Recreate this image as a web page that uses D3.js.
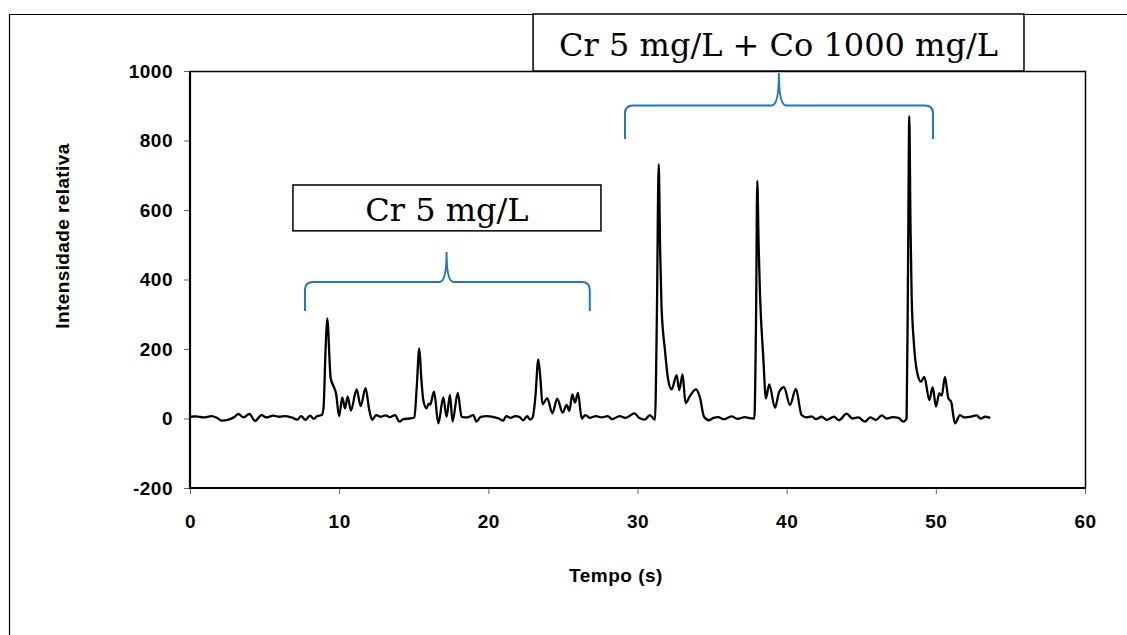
<!DOCTYPE html>
<html>
<head>
<meta charset="utf-8">
<script src="https://cdn.jsdelivr.net/npm/d3@7"></script>
<style>
  body { margin: 0; background: #fff; }
  svg { display: block; }
  .tick text { font-family: "Liberation Sans", Arial, sans-serif; font-weight: bold; font-size: 19px; letter-spacing: 0.5px; fill: #000; }
</style>
</head>
<body>
<svg id="chart" width="1127" height="635"></svg>
<script>
// ---- data ----
const time = [
  0, 0.4, 0.9, 1.45, 1.8, 2.12, 2.6, 3.0, 3.24, 3.6, 3.98, 4.36, 4.8, 5.1, 5.59, 6.0, 6.4, 6.8, 7.2, 7.45, 7.74, 8.05, 8.3, 8.54, 8.83,
  8.95, 9.09, 9.2, 9.43, 9.6, 9.79, 10.0, 10.21, 10.39, 10.57, 10.79, 11.17, 11.44, 11.77, 12.02, 12.22, 12.47, 12.8, 13.1, 13.4, 13.75, 14.03, 14.3, 14.7, 15.04,
  15.2, 15.37, 15.5, 15.64, 15.86, 16.0, 16.1, 16.36, 16.65, 16.98, 17.2, 17.43, 17.6, 17.95, 18.21, 18.6, 18.99, 19.2, 19.5, 19.9,
  20.3, 20.7, 21.0, 21.2, 21.5, 21.8, 22.1, 22.34, 22.6, 22.8, 22.97,
  23.15, 23.35, 23.5, 23.63, 23.95, 24.29, 24.62, 24.98, 25.25, 25.43, 25.63, 25.81, 26.01, 26.26, 26.5, 26.8, 27.2, 27.6, 28.0, 28.3, 28.8, 29.2, 29.8, 30.1, 30.5, 30.83, 31.17,
  31.3, 31.42, 31.52, 31.61, 31.84, 32.06, 32.29, 32.62, 32.8, 33.02, 33.22, 33.52, 33.92, 34.19, 34.46, 34.8, 35.1, 35.4, 35.8, 36.31, 36.7, 37.2, 37.5, 37.83,
  37.95, 38.03, 38.12, 38.21, 38.43, 38.61, 38.83, 39.22, 39.5, 39.82, 40.22, 40.62, 41.0, 41.34, 41.67, 41.95, 42.35, 42.7, 43.17, 43.5, 44.02, 44.4, 44.8, 45.25, 45.6, 46.0, 46.37, 46.7, 47.1, 47.5, 47.82, 48.04,
  48.13, 48.22, 48.3, 48.38, 48.53, 48.76, 49.0, 49.23, 49.56, 49.79, 50.01, 50.23, 50.4, 50.61, 50.84, 51.02, 51.28, 51.62, 51.9, 52.3, 52.74, 53.0, 53.3, 53.65
];
const intensity = [
  5, 6, 3, 7, 2, -6, -3, 5, 13, 3, 13, -7, 10, 3, 8, 5, 7, 3, -3, 7, -4, 8, -1, 7, 10,
  30, 200, 288, 116, 95, 72, 7, 61, 29, 63, 23, 84, 36, 87, 24, -4, 10, 5, 9, 4, 10, -9, -2, 0, 3,
  90, 202, 120, 53, 29, 43, 40, 77, -14, 61, 5, 68, -9, 74, 5, 3, 10, -9, 5, 7,
  5, 0, -6, 7, 2, 7, 4, -5, 7, -3, 3,
  60, 170, 110, 41, 58, 15, 57, 17, 39, 22, 69, 46, 74, 0, 10, 2, 7, 3, 7, -2, 7, 2, 15, 2, -3, 10, -4,
  300, 732, 480, 322, 197, 111, 84, 125, 82, 127, 44, 65, 84, 60, 5, -5, 2, 4, -2, 6, -1, 4, 1, 0,
  300, 684, 500, 360, 178, 58, 98, 31, 77, 90, 39, 85, 10, 3, 6, -2, 5, -4, 5, -5, 14, 0, 3, -9, 3, -4, 9, 0, 4, 2, -9, 0,
  400, 870, 560, 350, 216, 130, 106, 120, 53, 90, 34, 72, 66, 120, 58, 49, -14, 10, 3, 5, 9, 0, 5, 2
];
const xTicks = [0, 10, 20, 30, 40, 50, 60];
const yTicks = [-200, 0, 200, 400, 600, 800, 1000];
const xTitle = "Tempo (s)";
const yTitle = "Intensidade relativa";
// annotations in data units
const boxLabels = ["Cr 5 mg/L", "Cr 5 mg/L + Co 1000 mg/L"];
const boxT0 = [6.9, 23.0];
const boxT1 = [27.55, 55.91];
const boxV0 = [540, 1000];
const boxV1 = [672, 1164];
const braceT0 = [7.71, 29.16];
const braceT1 = [26.8, 49.81];
const braceTm = [17.2, 39.48];
const braceLevel = [393, 901];
const braceTip = [309, 804];
const bracePeak = [479, 994];

(function () {
  const svg = d3.select("#chart");
  const W = 1127, H = 635;
  const mLeft = 190, mRight = 1085, mTop = 71, mBottom = 488;

  const x = d3.scaleLinear().domain([0, 60]).range([mLeft, mRight]);
  const y = d3.scaleLinear().domain([-200, 1000]).range([mBottom, mTop]);

  // outer frame
  svg.append("path")
    .attr("d", `M9.5,${H + 5} L9.5,14.5 L${W + 5},14.5`)
    .attr("fill", "none").attr("stroke", "#000").attr("stroke-width", 1.2);

  // plot border (top/right thin)
  svg.append("path")
    .attr("d", `M${mLeft},${mTop + 0.5} L${mRight + 0.5},${mTop + 0.5} L${mRight + 0.5},${mBottom}`)
    .attr("fill", "none").attr("stroke", "#000").attr("stroke-width", 1.5);

  // axes
  const fmt = d => String(d);
  const yAxis = svg.append("g").attr("transform", `translate(${mLeft},0)`)
    .call(d3.axisLeft(y).tickValues(yTicks).tickSize(6).tickPadding(11).tickFormat(fmt));
  const xAxis = svg.append("g").attr("transform", `translate(0,${mBottom})`)
    .call(d3.axisBottom(x).tickValues(xTicks).tickSize(6).tickPadding(21).tickFormat(fmt));
  [xAxis, yAxis].forEach(g => {
    g.select(".domain").remove();
    g.selectAll(".tick line").attr("stroke", "#666").attr("stroke-width", 1);
  });
  // main axis lines (thicker)
  svg.append("line").attr("x1", mLeft).attr("x2", mLeft).attr("y1", mTop).attr("y2", mBottom + 1)
    .attr("stroke", "#000").attr("stroke-width", 2.2);
  svg.append("line").attr("x1", mLeft - 1).attr("x2", mRight + 1).attr("y1", mBottom).attr("y2", mBottom)
    .attr("stroke", "#000").attr("stroke-width", 2.2);

  // axis titles
  svg.append("text").attr("x", 616).attr("y", 582).attr("text-anchor", "middle")
    .style("font-family", '"Liberation Sans", Arial, sans-serif').style("font-weight", "bold")
    .style("font-size", "19px").style("letter-spacing", "0.5px").text(xTitle);
  svg.append("text").attr("transform", `translate(69,236) rotate(-90)`).attr("text-anchor", "middle")
    .style("font-family", '"Liberation Sans", Arial, sans-serif').style("font-weight", "bold")
    .style("font-size", "19px").style("letter-spacing", "0.4px").text(yTitle);

  // signal
  const pts = time.map((t, i) => [t, intensity[i]]);
  svg.append("path").datum(pts)
    .attr("d", d3.line().x(d => x(d[0])).y(d => y(d[1])).curve(d3.curveMonotoneX))
    .attr("fill", "none").attr("stroke", "#000").attr("stroke-width", 2.3).attr("stroke-linejoin", "round");

  // braces
  const blue = "#1E78C8";
  braceT0.forEach((t0, i) => {
    const x0 = x(t0), x1 = x(braceT1[i]), xm = x(braceTm[i]);
    const yH = y(braceLevel[i]), yT = y(braceTip[i]), yP = y(bracePeak[i]);
    const r = 8, c = 7;
    const d = `M${x0},${yT} L${x0},${yH + r} Q${x0},${yH} ${x0 + r},${yH} L${xm - c},${yH} ` +
              `Q${xm},${yH} ${xm},${yP} Q${xm},${yH} ${xm + c},${yH} L${x1 - r},${yH} Q${x1},${yH} ${x1},${yH + r} L${x1},${yT}`;
    svg.append("path").attr("d", d).attr("fill", "none").attr("stroke", blue).attr("stroke-width", 2);
  });

  // label boxes
  boxLabels.forEach((lab, i) => {
    const bx0 = x(boxT0[i]), bx1 = x(boxT1[i]);
    const by0 = y(boxV1[i]), by1 = y(boxV0[i]);
    svg.append("rect").attr("x", bx0).attr("y", by0).attr("width", bx1 - bx0).attr("height", by1 - by0)
      .attr("fill", "#fff").attr("stroke", "#000").attr("stroke-width", 1.5);
    svg.append("text").attr("x", (bx0 + bx1) / 2).attr("y", (by0 + by1) / 2 + 13.5)
      .attr("text-anchor", "middle")
      .style("font-family", '"DejaVu Serif", "Liberation Serif", serif')
      .style("font-size", "32px").style("font-variant-numeric", "oldstyle-nums").text(lab);
  });
})();
</script>
</body>
</html>
